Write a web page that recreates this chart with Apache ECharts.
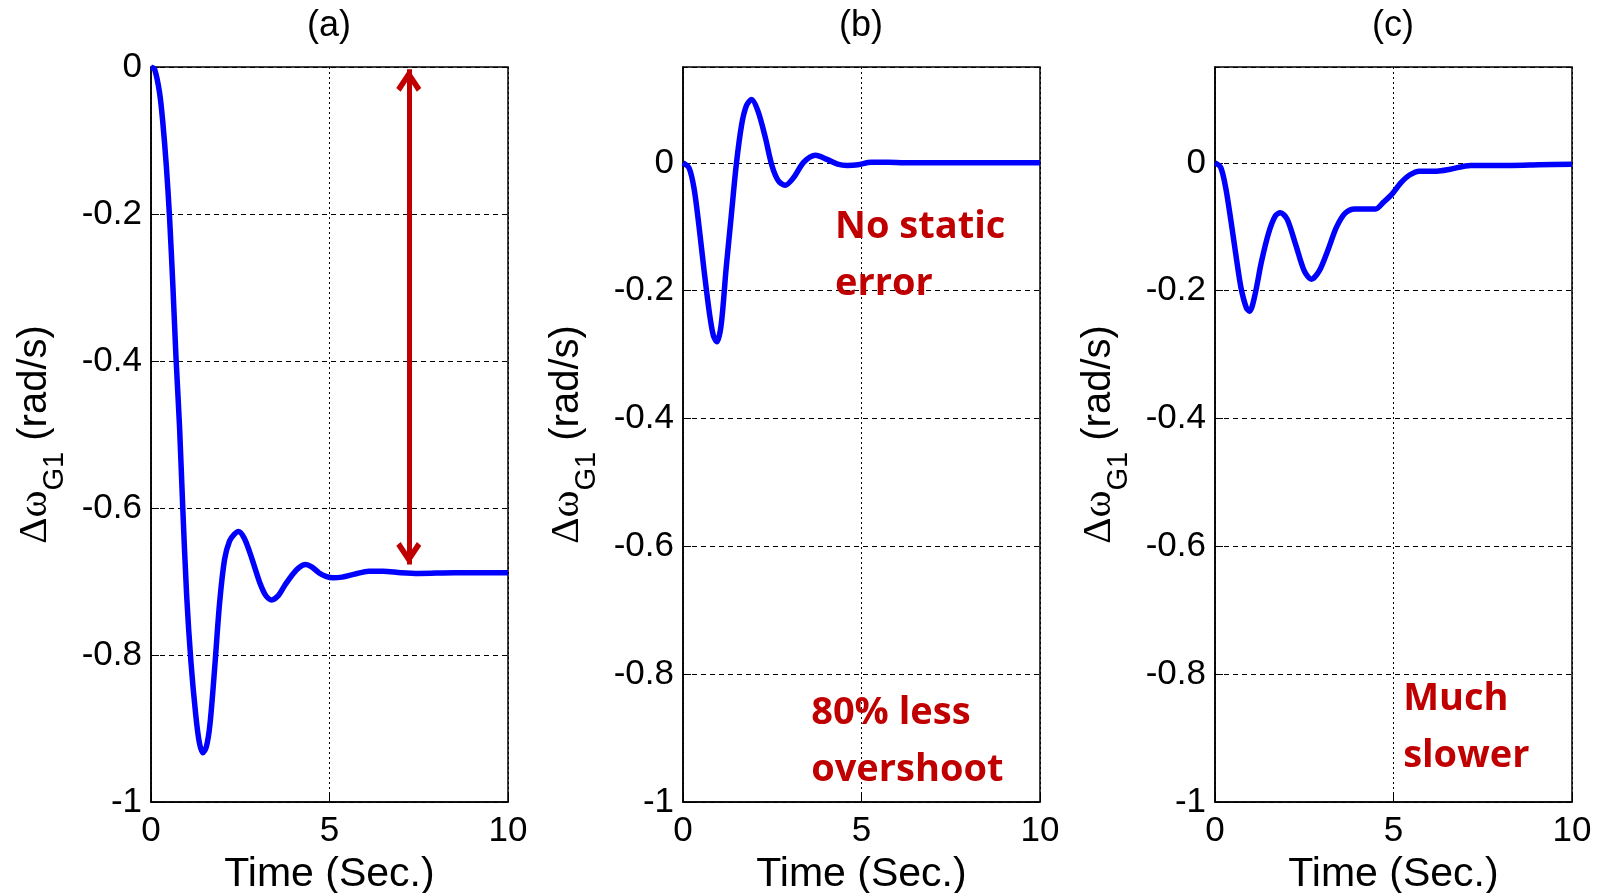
<!DOCTYPE html>
<html>
<head>
<meta charset="utf-8">
<script src="https://cdn.jsdelivr.net/npm/echarts@6/dist/echarts.min.js"></script>
<style>
  html, body { margin: 0; background: #fff; }
  #main { width: 1604px; height: 893px; }
</style>
</head>
<body>
<div id="main"></div>
<script>
// (a) response
const timeA = [0, 0.1, 0.24, 0.33, 0.43, 0.52, 0.615, 0.7, 0.8, 0.89, 1.0, 1.12, 1.25, 1.35, 1.45, 1.55, 1.65, 1.78, 1.92, 2.06, 2.2, 2.33, 2.45, 2.6, 2.75, 2.9, 3.05, 3.2, 3.38, 3.55, 3.75, 3.97, 4.15, 4.33, 4.5, 4.7, 4.9, 5.1, 5.35, 5.7, 6.1, 6.5, 7.0, 7.5, 8.5, 10];
const valueA = [0, -0.003, -0.035, -0.075, -0.135, -0.205, -0.3, -0.395, -0.49, -0.6, -0.72, -0.81, -0.88, -0.918, -0.933, -0.925, -0.895, -0.82, -0.73, -0.67, -0.645, -0.636, -0.632, -0.64, -0.658, -0.68, -0.702, -0.718, -0.725, -0.72, -0.705, -0.69, -0.681, -0.677, -0.68, -0.688, -0.693, -0.695, -0.694, -0.69, -0.686, -0.686, -0.688, -0.689, -0.688, -0.688];
// (b) response
const timeB = [0, 0.17, 0.31, 0.45, 0.6, 0.74, 0.85, 0.95, 1.07, 1.21, 1.35, 1.49, 1.64, 1.78, 1.92, 2.1, 2.3, 2.49, 2.67, 2.86, 3.1, 3.38, 3.71, 4.05, 4.33, 4.6, 4.9, 5.27, 5.75, 6.2, 8, 10];
const valueB = [0, -0.008, -0.04, -0.1, -0.173, -0.235, -0.27, -0.28, -0.253, -0.164, -0.084, -0.004, 0.059, 0.09, 0.099, 0.081, 0.041, -0.004, -0.028, -0.035, -0.023, 0.001, 0.012, 0.005, -0.002, -0.004, -0.003, 0.001, 0.001, 0, 0, 0];
// (c) response
const timeC = [0, 0.16, 0.3, 0.45, 0.59, 0.73, 0.88, 0.97, 1.11, 1.3, 1.5, 1.69, 1.83, 2.02, 2.26, 2.5, 2.7, 2.92, 3.16, 3.4, 3.64, 3.92, 4.21, 4.5, 4.73, 4.97, 5.21, 5.45, 5.73, 6.21, 6.59, 7.16, 8.3, 9.07, 10];
const valueC = [0, -0.007, -0.039, -0.092, -0.146, -0.196, -0.227, -0.232, -0.209, -0.155, -0.11, -0.083, -0.078, -0.088, -0.128, -0.169, -0.182, -0.169, -0.137, -0.101, -0.079, -0.072, -0.072, -0.072, -0.061, -0.048, -0.031, -0.019, -0.013, -0.013, -0.01, -0.004, -0.004, -0.003, -0.002];

const panelTitles = ["(a)", "(b)", "(c)"];
const yMax = [0, 0.15, 0.15];
// static deviation marked by the arrow in (a)
const spanA = [[7.22, -0.003], [7.22, -0.677]];
const noteB1 = { text: "No static\nerror", at: [4.26, -0.145] };
const noteB2 = { text: "80% less\novershoot", at: [3.59, -0.906] };
const noteC = { text: "Much\nslower", at: [5.27, -0.883] };

const zip = (t, v) => t.map((x, i) => [x, v[i]]);

const gridLeft = [151, 683, 1215];
const RED = "#C00000";
const arrowHead = "path://M10,0 Z M10,40 Z M10,20 L20,35 L16.5,38 L10,28 L3.5,38 L0,35 Z";

const chart = echarts.init(document.getElementById("main"));

function xAxisFor(i) {
  return {
    type: "value", gridIndex: i, min: 0, max: 10, interval: 5,
    name: "Time (Sec.)", nameLocation: "middle", nameGap: 38,
    nameTextStyle: { fontFamily: "Liberation Sans", fontSize: 41, color: "#000" },
    axisLine: { show: true, onZero: false, lineStyle: { color: "#000", width: 1.5 } },
    axisTick: { show: true, inside: true, length: 8, lineStyle: { color: "#000" } },
    axisLabel: { margin: 12, fontFamily: "Liberation Sans", fontSize: 35, color: "#000" },
    splitLine: { show: true, lineStyle: { color: "#000", width: 1, type: [2, 3] } }
  };
}

function yAxisFor(i) {
  return {
    type: "value", gridIndex: i, min: -1, max: yMax[i], interval: 0.2,
    name: "{g|Δω}{s|G1}{n| (rad/s)}", nameLocation: "middle", nameRotate: 90, nameGap: 94,
    nameTextStyle: {
      color: "#000",
      rich: {
        g: { fontFamily: "Liberation Serif", fontSize: 41, lineHeight: 44, color: "#000" },
        s: { fontFamily: "Liberation Sans", fontSize: 29, lineHeight: 28, padding: [40, 0, 0, 0], color: "#000" },
        n: { fontFamily: "Liberation Sans", fontSize: 40, lineHeight: 44, color: "#000" }
      }
    },
    axisLine: { show: true, onZero: false, lineStyle: { color: "#000", width: 1.5 } },
    axisTick: { show: true, inside: true, length: 8, lineStyle: { color: "#000" } },
    axisLabel: {
      margin: 9, fontFamily: "Liberation Sans", fontSize: 35, color: "#000",
      showMaxLabel: i === 0,
      verticalAlignMinLabel: "middle", verticalAlignMaxLabel: "middle",
      formatter: v => (Math.abs(v) < 1e-9 ? "0" : String(+v.toFixed(1)))
    },
    splitLine: { show: true, lineStyle: { color: "#000", width: 1, type: [5, 4] } }
  };
}

const noteLabel = {
  show: true, position: "right", distance: 0, formatter: "{b}",
  color: RED, fontFamily: "Open Sans", fontWeight: "bold", fontSize: 38, lineHeight: 57
};

function note(n) {
  return {
    symbol: "circle", symbolSize: 0, silent: true, label: noteLabel,
    data: [{ name: n.text, coord: n.at }]
  };
}

const line = { type: "line", showSymbol: false, smooth: 0.3, lineStyle: { color: "#0000FF", width: 5.5 }, itemStyle: { color: "#0000FF" } };

const option = {
  animation: false,
  backgroundColor: "#fff",
  title: panelTitles.map((t, i) => ({
    text: t, left: gridLeft[i] + 173, top: 3, textAlign: "center",
    textStyle: { fontFamily: "Liberation Sans", fontSize: 36, fontWeight: "normal", color: "#000" }
  })),
  grid: gridLeft.map(l => ({
    left: l, top: 67, width: 357, height: 735, outerBoundsMode: "none",
    show: true, borderColor: "#000", borderWidth: 1.5
  })),
  xAxis: [0, 1, 2].map(xAxisFor),
  yAxis: [0, 1, 2].map(yAxisFor),
  series: [
    Object.assign({}, line, {
      xAxisIndex: 0, yAxisIndex: 0, data: zip(timeA, valueA),
      markLine: {
        silent: true, symbol: [arrowHead, arrowHead], symbolSize: [25, 50],
        lineStyle: { color: RED, width: 5, type: "solid" }, label: { show: false },
        data: [[{ coord: spanA[0] }, { coord: spanA[1] }]]
      }
    }),
    Object.assign({}, line, {
      xAxisIndex: 1, yAxisIndex: 1, data: zip(timeB, valueB),
      markPoint: { symbol: "circle", symbolSize: 0, silent: true, label: noteLabel,
        data: [{ name: noteB1.text, coord: noteB1.at }, { name: noteB2.text, coord: noteB2.at }] }
    }),
    Object.assign({}, line, {
      xAxisIndex: 2, yAxisIndex: 2, data: zip(timeC, valueC),
      markPoint: note(noteC)
    })
  ]
};

chart.setOption(option);
</script>
</body>
</html>
